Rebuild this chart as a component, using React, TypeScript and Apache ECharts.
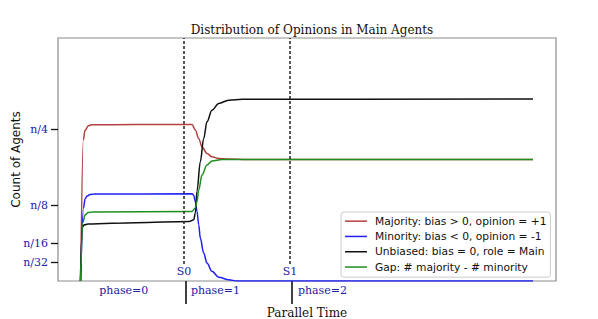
import React, { useEffect, useRef } from "react";
import * as echarts from "echarts";

const titleText = "Distribution of Opinions in Main Agents";
const xAxisName = "Parallel Time";
const yAxisName = "Count of Agents";

const seriesNames = [
  "Majority: bias > 0, opinion = +1",
  "Minority: bias < 0, opinion = -1",
  "Unbiased: bias = 0, role = Main",
  "Gap: # majority - # minority",
];

// [parallel time, count as fraction of n]
const majority: [number, number][] = [
  [0.24, 0], [0.49, 0.232], [0.65, 0.248], [0.96, 0.2555], [1.28, 0.2572],
  [5.5, 0.2575], [10.75, 0.2577], [11.06, 0.2484], [11.38, 0.2347],
  [11.69, 0.2209], [12.16, 0.21], [12.63, 0.2044], [13.27, 0.2018],
  [14.21, 0.2007], [16, 0.2], [42.93, 0.2],
];
const minority: [number, number][] = [
  [0.23, 0], [0.51, 0.12], [0.65, 0.135], [0.84, 0.1398], [1.12, 0.1423],
  [1.5, 0.1431], [10.75, 0.1436], [10.91, 0.141], [11.06, 0.1311],
  [11.22, 0.1146], [11.38, 0.0926], [11.53, 0.0707], [11.85, 0.0461],
  [12.16, 0.0296], [12.63, 0.016], [13.27, 0.0061], [14.21, 0.0021],
  [15.0, 0], [42.93, 0],
];
const unbiased: [number, number][] = [
  [0.21, 0], [0.41, 0.0888], [0.55, 0.0921], [0.93, 0.0938], [5.5, 0.096],
  [10.5, 0.098], [10.91, 0.1008], [11.06, 0.1118], [11.22, 0.148],
  [11.53, 0.1962], [11.85, 0.2347], [12.16, 0.262], [12.63, 0.2812],
  [13.27, 0.2923], [14.21, 0.2977], [15.5, 0.2993], [42.93, 0.2995],
];
const gap: [number, number][] = [
  [0.23, 0], [0.46, 0.097], [0.65, 0.1086], [0.93, 0.1127], [1.31, 0.1135],
  [10.75, 0.1146], [11.06, 0.1201], [11.22, 0.1311], [11.38, 0.1497],
  [11.69, 0.1743], [12.16, 0.1908], [12.63, 0.1974], [13.58, 0.2],
  [42.93, 0.2],
];

const yTickValues = [1 / 32, 1 / 16, 1 / 8, 1 / 4];
const yTickLabels = ["n/32", "n/16", "n/8", "n/4"];

const phaseBoundaries = [10.2, 20.15];
const phaseLabelPos = [4.31, 12.96, 23.06];
const phaseLabels = ["phase=0", "phase=1", "phase=2"];

const stagePos = [10, 20];
const stageLabels = ["S0", "S1"];
const stageLineBottom = 0.028;

const colors = ["#b5403f", "#1f1ff5", "#111111", "#1f8f1f"];
const labelBlue = "#2020a8";
const serif = "DejaVu Serif";
const sans = "DejaVu Sans";

function lookup(values: number[], labels: string[], v: number): string {
  for (let i = 0; i < values.length; i++) {
    if (Math.abs(values[i] - v) < 1e-6) return labels[i];
  }
  return "";
}

export default function App() {
  const ref = useRef<HTMLDivElement>(null);
  useEffect(() => {
    if (!ref.current) return;
    const chart = echarts.init(ref.current, null, { renderer: "svg" });
    const dataSets = [majority, minority, unbiased, gap];
    const series: any[] = dataSets.map((d, i) => ({
      name: seriesNames[i],
      type: "line",
      data: d,
      showSymbol: false,
      symbol: "none",
      smooth: 0.35,
      smoothMonotone: "x",
      lineStyle: { color: colors[i], width: 1.5 },
      itemStyle: { color: colors[i] },
      emphasis: { disabled: true },
      z: 3,
    }));
    series[0].markLine = {
      silent: true,
      symbol: "none",
      animation: false,
      lineStyle: { color: "#222", type: [3, 2], width: 1.5 },
      label: {
        show: true,
        position: "start",
        formatter: "{b}",
        color: labelBlue,
        fontFamily: serif,
        fontSize: 11,
        distance: 2,
      },
      data: stagePos.map((s, i) => [
        { name: stageLabels[i], coord: [s, stageLineBottom] },
        { coord: [s, 0.4] },
      ]),
    };
    chart.setOption({
      animation: false,
      title: {
        text: titleText,
        left: 307,
        top: 19,
        textAlign: "center",
        textStyle: { fontFamily: serif, fontSize: 12, fontWeight: "normal", color: "#111" },
      },
      legend: {
        orient: "vertical",
        left: 341,
        top: 212,
        data: seriesNames,
        icon: "rect",
        itemWidth: 22,
        itemHeight: 1.5,
        itemGap: 3,
        padding: [3, 4, 4, 4],
        backgroundColor: "#fff",
        borderColor: "#cccccc",
        borderWidth: 1,
        borderRadius: 3,
        textStyle: {
          fontFamily: sans,
          fontSize: 10.7,
          color: "#111",
          lineHeight: 12.3,
          padding: [0, 0, 0, 3],
        },
        selectedMode: false,
      },
      grid: {
        left: 58,
        right: 42,
        top: 38,
        bottom: 38,
        outerBoundsMode: "none",
        containLabel: false,
        show: true,
        borderColor: "#8c8c8c",
        borderWidth: 1.2,
        backgroundColor: "transparent",
      },
      xAxis: {
        type: "value",
        min: -1.9,
        max: 45.1,
        name: xAxisName,
        nameLocation: "middle",
        nameGap: 26,
        nameMoveOverlap: false,
        nameTextStyle: { fontFamily: serif, fontSize: 12, color: "#111" },
        axisLine: { show: false, onZero: false },
        splitLine: { show: false },
        axisTick: {
          show: true,
          inside: false,
          customValues: phaseBoundaries,
          length: 23,
          lineStyle: { color: "#111", width: 1.6 },
        },
        axisLabel: {
          show: true,
          customValues: phaseLabelPos,
          formatter: (v: number) => lookup(phaseLabelPos, phaseLabels, v),
          color: labelBlue,
          fontFamily: serif,
          fontSize: 11,
          margin: 4,
        },
      },
      yAxis: {
        type: "value",
        min: 0,
        max: 0.4,
        name: yAxisName,
        nameLocation: "middle",
        nameGap: 36,
        nameMoveOverlap: false,
        nameTextStyle: { fontFamily: sans, fontSize: 12, color: "#111" },
        axisLine: { show: false, onZero: false },
        splitLine: { show: false },
        axisTick: {
          show: true,
          inside: false,
          customValues: yTickValues,
          length: 7,
          lineStyle: { color: "#111", width: 1.3 },
        },
        axisLabel: {
          show: true,
          customValues: yTickValues,
          formatter: (v: number) => lookup(yTickValues, yTickLabels, v),
          color: labelBlue,
          fontFamily: serif,
          fontSize: 11,
          margin: 10,
        },
      },
      series,
    });
    return () => chart.dispose();
  }, []);
  return (
    <div
      ref={ref}
      style={{ position: "absolute", left: 0, top: 0, width: 598, height: 319, background: "#fff" }}
    />
  );
}
